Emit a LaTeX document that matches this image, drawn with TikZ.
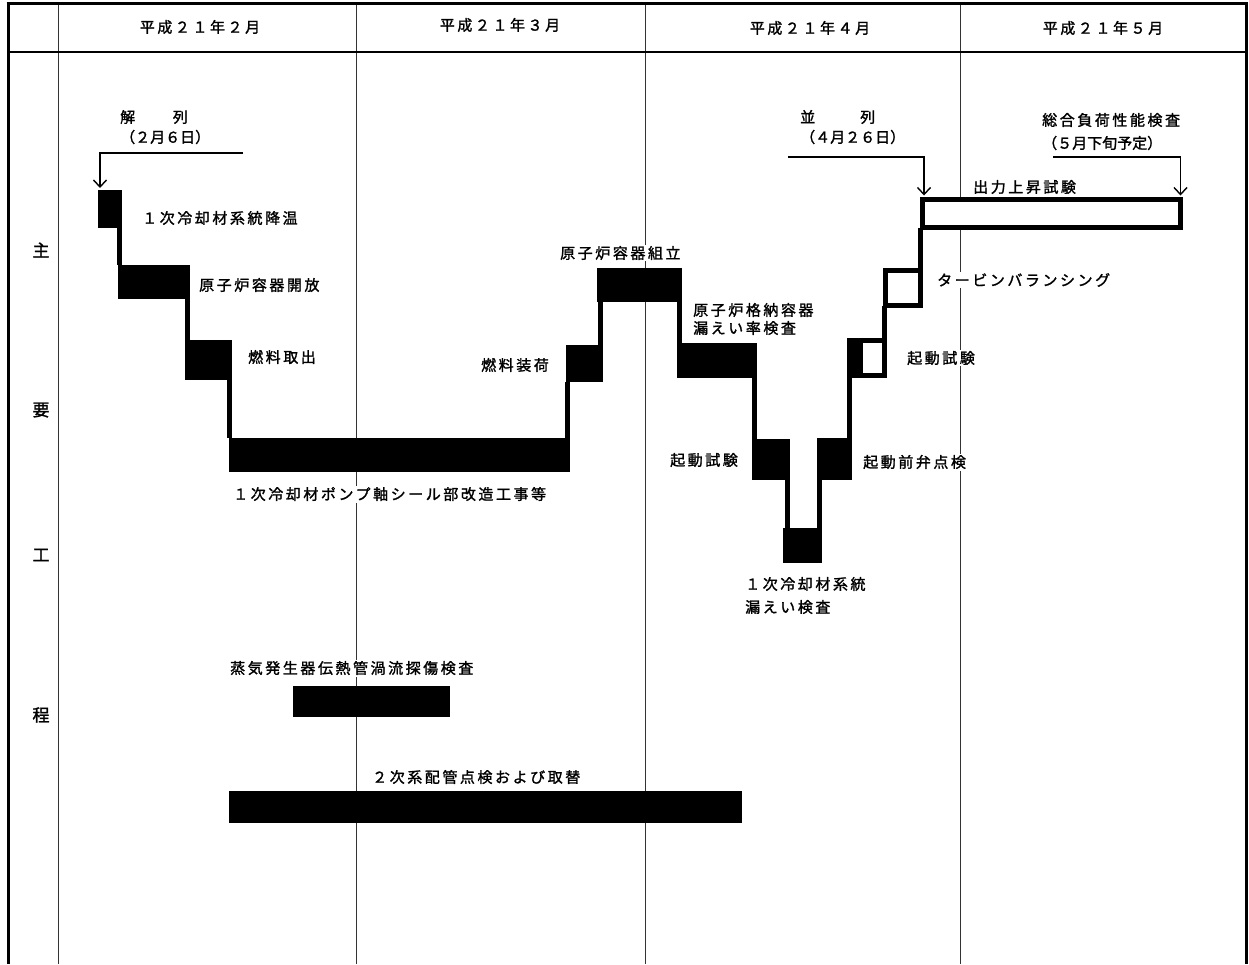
\documentclass[tikz,border=0pt]{standalone}
\usepackage{fontspec}
\newfontfamily\jpS[LetterSpace=17,FakeBold=1.5]{Noto Sans CJK JP}
\newfontfamily\jpN[FakeBold=1.5]{Noto Sans CJK JP}
\usetikzlibrary{arrows.meta}
\begin{document}
\begin{tikzpicture}[x=1pt,y=-1pt,
  blk/.style={fill=black,draw=none,inner sep=0,outer sep=0,anchor=north west},
  hol/.style={fill=white,draw=black,line width=5pt,inner sep=0,outer sep=0,anchor=north west},
  wht/.style={fill=white,draw=none,inner sep=0,outer sep=0,anchor=north west},
  conn/.style={line width=5pt,black},
  arr/.style={line width=1.4pt,-{Straight Barb[length=7pt,width=13pt]}},
  grid/.style={line width=1pt,black!80},
  frame/.style={line width=3pt,black},
  lbl/.style={font=\jpS\fontsize{15}{18}\selectfont,fill=white,inner sep=1.5pt,anchor=west,align=left},
  lbn/.style={lbl,font=\jpN\fontsize{15}{18}\selectfont},
  hdr/.style={font=\jpS\fontsize{15}{18}\selectfont,inner sep=0},
  side/.style={font=\jpN\fontsize{17}{18}\selectfont,inner sep=0}
]
\useasboundingbox (0,0) rectangle (1249,964);
% ---- grid and frame
\draw[grid] (58,3) -- (58,964);
\draw[grid] (356,3) -- (356,964);
\draw[grid] (645,3) -- (645,964);
\draw[grid] (960,3) -- (960,964);
\draw[line width=2pt] (8,52) -- (1246,52);
\draw[frame] (6.5,3) -- (1247.5,3);
\draw[frame] (8,3) -- (8,964);
\draw[frame] (1246,3) -- (1246,964);
% ---- header
\node[hdr] (h2) at (200,27) {平成２１年２月};
\node[hdr] (h3) at (500,25) {平成２１年３月};
\node[hdr] (h4) at (810,28) {平成２１年４月};
\node[hdr] (h5) at (1103,28) {平成２１年５月};
\node[side] (s1) at (41,250) {主};
\node[side] (s2) at (41,410) {要};
\node[side] (s3) at (41,555) {工};
\node[side] (s4) at (41,715) {程};
% ---- blocks
\node[blk,minimum width=24pt,minimum height=38pt] (b1) at (98,190) {};
\node[blk,minimum width=72pt,minimum height=34pt] (b2) at (118,265) {};
\node[blk,minimum width=47pt,minimum height=40pt] (b3) at (185,340) {};
\node[blk,minimum width=341pt,minimum height=34pt] (b4) at (229,438) {};
\node[blk,minimum width=37pt,minimum height=37pt] (b5) at (566,345) {};
\node[blk,minimum width=85pt,minimum height=34pt] (b6) at (597,268) {};
\node[blk,minimum width=80pt,minimum height=35pt] (b7) at (677,343) {};
\node[blk,minimum width=38pt,minimum height=41pt] (b8) at (752,439) {};
\node[blk,minimum width=39pt,minimum height=35pt] (b9) at (783,528) {};
\node[blk,minimum width=35pt,minimum height=42pt] (b10) at (817,438) {};
\node[blk,minimum width=40pt,minimum height=40pt] (b11) at (847,338) {};
\node[wht,minimum width=19pt,minimum height=30pt] (b11w) at (863,343) {};
\node[hol,minimum width=35pt,minimum height=35pt] (b12) at (885.5,270.5) {};
\node[hol,minimum width=258pt,minimum height=28pt] (b13) at (922.5,199.5) {};
\node[blk,minimum width=157pt,minimum height=31pt] (b14) at (293,686) {};
\node[blk,minimum width=513pt,minimum height=32pt] (b15) at (229,791) {};
% ---- connectors
\draw[conn] ([xshift=-2.5pt]b1.south east) -- ([xshift=-2.5pt]b1.south east |- b2.north);
\draw[conn] ([xshift=-2.5pt]b2.south east) -- ([xshift=-2.5pt]b2.south east |- b3.north);
\draw[conn] ([xshift=-2.5pt]b3.south east) -- ([xshift=-2.5pt]b3.south east |- b4.north);
\draw[conn] ([xshift=-2.5pt]b4.north east) -- ([xshift=-2.5pt]b4.north east |- b5.south);
\draw[conn] ([xshift=-2.5pt]b5.north east) -- ([xshift=-2.5pt]b5.north east |- b6.south);
\draw[conn] ([xshift=-2.5pt]b6.south east) -- ([xshift=-2.5pt]b6.south east |- b7.north);
\draw[conn] ([xshift=-2.5pt]b7.south east) -- ([xshift=-2.5pt]b7.south east |- b8.north);
\draw[conn] ([xshift=-2.5pt]b8.south east) -- ([xshift=-2.5pt]b8.south east |- b9.north);
\draw[conn] ([xshift=-2.5pt]b9.north east) -- ([xshift=-2.5pt]b9.north east |- b10.south);
\draw[conn] ([xshift=-2.5pt]b10.north east) -- ([xshift=-2.5pt]b10.north east |- b11.south);
\draw[conn] ([xshift=-2.5pt]b11.north east) -- ([xshift=-2.5pt]b11.north east |- b12.south);
\draw[conn] (b12.north east) -- (b12.north east |- b13.south);
% ---- milestone arrows
\coordinate (k1) at (243,153);
\coordinate (k2) at (788,157);
\coordinate (k3) at (1053,157);
\draw[arr] (k1) -| ([xshift=2pt,yshift=2pt]b1.north west);
\draw[arr] (k2) -| ([xshift=1.5pt,yshift=4pt]b13.north west);
\draw[arr] (k3) -| ([yshift=4pt]b13.north east);
% ---- labels
\node[lbl] (t1) at (118.5,117) {解　　列};
\node[lbn] (t2) at (118.5,137) {（２月６日）};
\node[lbn] (t3) at (798.5,117) {並　　　列};
\node[lbn] (t4) at (798.5,137) {（４月２６日）};
\node[lbl] (t5) at (1040.5,120) {総合負荷性能検査};
\node[lbn] (t6) at (1040.5,143) {（５月下旬予定）};
\node[lbl] (l1) at (140.5,218) {１次冷却材系統降温};
\node[lbl] (l2) at (197.5,285) {原子炉容器開放};
\node[lbl] (l3) at (246.5,357) {燃料取出};
\node[lbl] (l4) at (231.5,494) {１次冷却材ポンプ軸シール部改造工事等};
\node[lbl] (l5) at (479.5,365) {燃料装荷};
\node[lbl] (l6) at (558.5,253) {原子炉容器組立};
\node[lbl] (l7) at (691.5,319) {原子炉格納容器\\漏えい率検査};
\node[lbl] (l8) at (668.5,460) {起動試験};
\node[lbl] (l9) at (861.5,462) {起動前弁点検};
\node[lbl,font=\jpS\fontsize{15}{23}\selectfont] (l10) at (743.5,595.5) {１次冷却材系統\\漏えい検査};
\node[lbl] (l11) at (905.5,358) {起動試験};
\node[lbl] (l12) at (935.5,280) {タービンバランシング};
\node[lbl] (l13) at (971.5,187) {出力上昇試験};
\node[lbl] (l14) at (228.5,668) {蒸気発生器伝熱管渦流探傷検査};
\node[lbl] (l15) at (370.5,777) {２次系配管点検および取替};
\end{tikzpicture}
\end{document}
